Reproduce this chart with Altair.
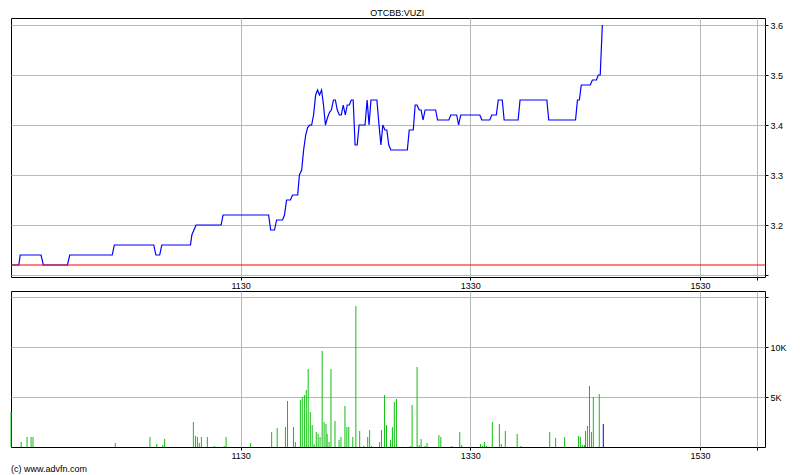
import altair as alt
import pandas as pd

title_text = "OTCBB:VUZI"
credit_text = "(c) www.advfn.com"
prev_close = 3.12

# minutes after 09:30 and last trade price
price_minutes = [0, 4.1, 4.8, 15.7, 16.9, 29.5, 30.7, 52.9, 54.0, 74.6, 75.7, 77.7, 78.8,
                 93.8, 94.5, 96.7, 109.8, 110.8, 134.6, 135.7, 137.7, 138.8, 141.9, 142.9,
                 144.0, 146.0, 147.1, 149.8, 150.7, 151.9, 152.9, 154.0, 155.0, 156.1, 157.1,
                 158.1, 159.2, 160.2, 161.2, 162.3, 163.3, 164.3, 165.4, 166.4, 167.4, 168.5,
                 169.5, 170.5, 171.6, 172.6, 173.6, 174.7, 175.7, 176.8, 177.8, 178.8, 179.8,
                 180.9, 181.9, 185.0, 186.1, 187.1, 188.1, 191.2, 192.3, 193.3, 194.3, 195.4,
                 196.4, 197.4, 198.5, 207.1, 208.1, 210.2, 211.2, 212.2, 213.3, 214.3, 215.3,
                 216.4, 221.9, 222.9, 228.8, 229.8, 232.9, 233.9, 235.0, 245.0, 246.0, 250.2,
                 251.2, 253.6, 254.6, 256.7, 257.7, 265.0, 266.0, 280.0, 281.0, 295.0, 296.0,
                 297.0, 298.0, 302.7, 303.8, 305.9, 306.9, 307.9, 309.0]
price_values = [3.12, 3.12, 3.14, 3.14, 3.12, 3.12, 3.14, 3.14, 3.16, 3.16, 3.14, 3.14, 3.16,
                3.16, 3.18, 3.20, 3.20, 3.22, 3.22, 3.19, 3.19, 3.21, 3.21, 3.22,
                3.25, 3.25, 3.26, 3.26, 3.30, 3.31, 3.35, 3.38, 3.395, 3.40, 3.40,
                3.42, 3.46, 3.47, 3.46, 3.47, 3.44, 3.40, 3.415, 3.425, 3.43, 3.45,
                3.45, 3.43, 3.42, 3.42, 3.44, 3.42, 3.44, 3.44, 3.45, 3.45, 3.36,
                3.36, 3.40, 3.40, 3.45, 3.40, 3.45, 3.45, 3.40, 3.36, 3.40, 3.39,
                3.39, 3.36, 3.35, 3.35, 3.39, 3.39, 3.44, 3.44, 3.43, 3.43, 3.41,
                3.43, 3.43, 3.41, 3.41, 3.42, 3.42, 3.40, 3.42, 3.42, 3.41, 3.41,
                3.42, 3.42, 3.45, 3.45, 3.41, 3.41, 3.45, 3.45, 3.41, 3.41, 3.45,
                3.45, 3.48, 3.48, 3.49, 3.49, 3.50, 3.50, 3.60]

vol_minutes = [0, 5.3, 8.4, 10.5, 11.5, 54.5, 72.6, 76.2, 79.3, 80.3, 95.3, 96.4, 97.4, 98.4,
               99.5, 102.6, 106.2, 111.4, 112.4, 125.2, 136.2, 139.1, 143.4, 144.5, 147.6,
               148.6, 151.2, 152.2, 153.3, 154.3, 155.3, 156.4, 157.4, 158.4, 159.5, 160.5,
               161.5, 162.6, 163.6, 164.6, 165.2, 166.2, 167.2, 169.3, 171.4, 172.4, 174.5,
               175.5, 176.5, 178.6, 180.2, 182.2, 184.3, 186.4, 187.4, 188.4, 192.6, 193.6,
               195.2, 196.2, 198.3, 199.3, 200.3, 201.4, 208.6, 209.6, 212.2, 213.3, 214.3,
               216.4, 217.4, 223.6, 224.6, 230.3, 234.5, 235.5, 245.3, 246.4, 247.4, 248.4,
               251.5, 255.2, 256.2, 258.3, 264.5, 266.5, 281.5, 284.6, 289.3, 296.5, 297.5,
               298.6, 299.7, 300.2, 301.2, 302.3, 303.3, 304.3, 307.4, 309.5]
vol_values = [3500, 500, 1000, 1000, 1000, 400, 1000, 300, 200, 800, 2500, 1100, 1000, 400,
              1000, 1000, 100, 100, 1000, 400, 1500, 1900, 2000, 4600, 2000,
              500, 4700, 5000, 5200, 5700, 7800, 3500, 2200, 300, 1500, 1300,
              1000, 9600, 2500, 2300, 1300, 500, 7800, 2600, 700, 1000, 4100,
              2000, 2000, 1000, 14100, 1600, 100, 1000, 1700, 100, 500, 1700,
              5200, 2200, 700, 2000, 4500, 4800, 100, 4200, 8000, 200, 800,
              100, 400, 1200, 1000, 100, 1500, 200, 300, 100, 500, 100,
              2500, 2300, 300, 1600, 1300, 100, 1500, 900, 1000, 1100, 1000,
              200, 200, 1600, 2100, 6100, 1500, 5000, 5300, 2300]

time_ticks = [120, 240, 360, 390]
time_labels = ["1130", "1330", "1530", ""]
price_ticks = [3.1, 3.2, 3.3, 3.4, 3.5, 3.6]
price_labels = ["", "3.2", "3.3", "3.4", "3.5", "3.6"]
vol_ticks = [5000, 10000, 15000]
vol_labels = ["5K", "10K", ""]

FONT = "Liberation Sans"
GRID = "#b2baba"

def label_expr(vals, labels):
    pairs = ", ".join(f"'{v}': '{l}'" for v, l in zip(vals, labels))
    return "{" + pairs + "}['' + datum.value]"

x_scale = alt.Scale(domain=[0, 394], nice=False, zero=False)

def x_axis():
    return alt.Axis(values=time_ticks, labelExpr=label_expr(time_ticks, time_labels),
                    title=None, grid=True, gridColor=GRID, gridWidth=1, domain=False,
                    tickSize=3, tickColor="black", labelPadding=1, labelFont=FONT,
                    labelFontSize=9, labelColor="black", labelFlush=False, labelOverlap=False)

price_df = pd.DataFrame({"m": price_minutes, "p": price_values})
prev_df = pd.DataFrame({"p": [prev_close]})

y_price = alt.Y("p:Q", scale=alt.Scale(domain=[3.096, 3.614], nice=False, zero=False),
                axis=alt.Axis(orient="right", values=price_ticks,
                              labelExpr=label_expr(price_ticks, price_labels),
                              title=None, grid=True, gridColor=GRID, domain=False,
                              tickSize=3, tickColor="black", labelPadding=2, labelFont=FONT,
                              labelFontSize=9, labelColor="black", labelOverlap=False,
                              labelFlush=False))

line = alt.Chart(price_df).mark_line(color="#0000ff", strokeWidth=1.2).encode(
    x=alt.X("m:Q", scale=x_scale, axis=x_axis()), y=y_price)
prev_rule = alt.Chart(prev_df).mark_rule(color="#ff0000", strokeWidth=1).encode(
    y=alt.Y("p:Q"))
top = alt.layer(line, prev_rule).properties(width=754, height=259)

n = len(vol_values)
vol_df = pd.DataFrame({"m": vol_minutes, "v": vol_values,
                       "last": [i == n - 1 for i in range(n)]})

bars = alt.Chart(vol_df).mark_rule(strokeWidth=1).encode(
    x=alt.X("m:Q", scale=x_scale, axis=x_axis()),
    y=alt.Y("v:Q", scale=alt.Scale(domain=[0, 15600], nice=False),
            axis=alt.Axis(orient="right", values=vol_ticks,
                          labelExpr=label_expr(vol_ticks, vol_labels),
                          title=None, grid=True, gridColor=GRID, domain=False,
                          tickSize=3, tickColor="black", labelPadding=2, labelFont=FONT,
                          labelFontSize=9, labelColor="black", labelOverlap=False,
                          labelFlush=False)),
    y2=alt.datum(0),
    color=alt.condition("datum.last", alt.value("#0000ff"), alt.value("#10c010")),
)
credit = alt.Chart(pd.DataFrame({"t": [credit_text]})).mark_text(
    align="left", baseline="alphabetic", font=FONT, fontSize=9, color="black").encode(
    text="t:N", x=alt.value(0), y=alt.value(181))
bottom = alt.layer(bars, credit).properties(width=754, height=156)

chart = alt.vconcat(top, bottom, spacing=14).properties(
    bounds="flush",
    padding={"left": 0, "top": 0, "right": 0, "bottom": 0},
    title=alt.TitleParams(title_text, font=FONT, fontSize=9, fontWeight="normal",
                          color="black", anchor="middle", offset=0),
).configure_view(stroke="black", strokeWidth=1)

chart.save("out.html", embed_options={"renderer": "svg", "actions": False})
